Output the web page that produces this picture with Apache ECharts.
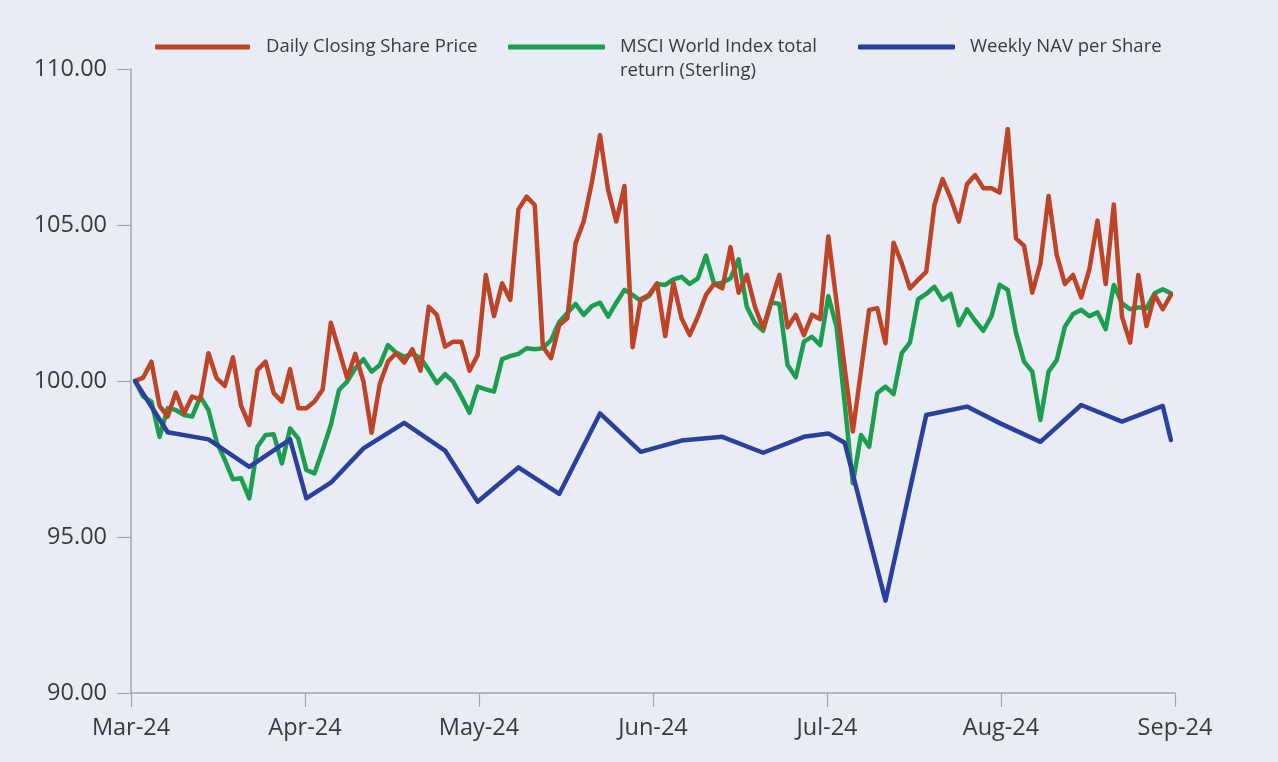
<!DOCTYPE html>
<html>
<head>
<meta charset="utf-8">
<script src="https://cdn.jsdelivr.net/npm/echarts@6/dist/echarts.min.js"></script>
<style>
  html, body { margin: 0; padding: 0; background: #e9ebf5; }
  #chart { width: 1278px; height: 762px; }
</style>
</head>
<body>
<div id="chart"></div>
<script>
/* Share price vs MSCI World vs weekly NAV, rebased to 100 */

// month tick labels (one every 21 trading days)
const monthLabels = ["Mar-24", "Apr-24", "May-24", "Jun-24", "Jul-24", "Aug-24", "Sep-24"];

// daily closing share price, one value per trading day
const sharePrice = [
  100.00, 100.11, 100.62, 99.20, 98.86, 99.63, 98.96, 99.50, 99.41, 100.89,
  100.09, 99.84, 100.76, 99.20, 98.59, 100.35, 100.62, 99.61, 99.34, 100.38,
  99.13, 99.13, 99.34, 99.73, 101.87, 100.99, 100.09, 100.87, 99.98, 98.34,
  99.90, 100.62, 100.89, 100.59, 101.02, 100.33, 102.38, 102.12, 101.10, 101.26,
  101.26, 100.33, 100.83, 103.40, 102.08, 103.13, 102.60, 105.50, 105.91, 105.64,
  101.10, 100.73, 101.79, 102.01, 104.41, 105.11, 106.36, 107.88, 106.12, 105.11,
  106.25, 101.08, 102.62, 102.76, 103.13, 101.44, 103.15, 102.01, 101.47, 102.06,
  102.76, 103.11, 102.97, 104.29, 102.83, 103.40, 102.38, 101.69, 102.56, 103.40,
  101.72, 102.12, 101.47, 102.12, 101.98, 104.63, 102.53, 100.42, 98.38, 100.32,
  102.28, 102.33, 101.21, 104.43, 103.77, 102.97, 103.24, 103.50, 105.64, 106.47,
  105.86, 105.11, 106.31, 106.60, 106.18, 106.18, 106.04, 108.08, 104.57, 104.33,
  102.83, 103.77, 105.93, 104.04, 103.11, 103.40, 102.68, 103.58, 105.14, 103.11,
  105.66, 102.06, 101.23, 103.40, 101.76, 102.76, 102.30, 102.76
];

// MSCI World total return (sterling), same trading days
const msciWorld = [
  100.00, 99.50, 99.34, 98.21, 99.13, 99.07, 98.91, 98.86, 99.50, 99.07,
  98.05, 97.47, 96.85, 96.88, 96.24, 97.89, 98.27, 98.29, 97.36, 98.48,
  98.16, 97.15, 97.04, 97.79, 98.59, 99.71, 99.98, 100.41, 100.70, 100.30,
  100.51, 101.15, 100.91, 100.78, 100.87, 100.74, 100.35, 99.93, 100.22, 99.98,
  99.50, 98.98, 99.82, 99.73, 99.66, 100.70, 100.80, 100.87, 101.05, 101.02,
  101.05, 101.31, 101.89, 102.18, 102.47, 102.12, 102.40, 102.51, 102.06, 102.51,
  102.92, 102.76, 102.57, 102.72, 103.11, 103.08, 103.26, 103.34, 103.11, 103.29,
  104.02, 103.11, 103.15, 103.29, 103.90, 102.38, 101.85, 101.61, 102.52, 102.47,
  100.51, 100.12, 101.26, 101.42, 101.15, 102.72, 101.74, 99.29, 96.72, 98.27,
  97.89, 99.61, 99.82, 99.58, 100.89, 101.23, 102.62, 102.79, 103.02, 102.60,
  102.79, 101.79, 102.30, 101.93, 101.61, 102.08, 103.08, 102.92, 101.55, 100.62,
  100.30, 98.75, 100.30, 100.67, 101.74, 102.15, 102.28, 102.08, 102.20, 101.66,
  103.08, 102.49, 102.30, 102.36, 102.33, 102.81, 102.94, 102.81
];

// weekly NAV: trading-day index of each print, and its value
const navDays = [0, 4, 9, 14, 19, 21, 24, 28, 33, 38, 42, 47, 52, 57, 62, 67, 72, 77, 82, 85, 87, 92, 97, 102, 106, 111, 116, 121, 126, 127];
const navValues = [
  100.00, 98.36, 98.13, 97.25, 98.13, 96.24, 96.74, 97.84, 98.66, 97.77,
  96.13, 97.23, 96.38, 98.96, 97.73, 98.09, 98.21, 97.70, 98.21, 98.32,
  98.02, 92.96, 98.91, 99.18, 98.65, 98.05, 99.23, 98.70, 99.20, 98.11
];

const C = { red: "#bd4427", green: "#1c9e4f", blue: "#2b3f9c", axis: "#a4a6ad", text: "#3a3a3a" };
const FONT = "'Open Sans', 'Noto Sans', sans-serif";
const LEGEND_SIZE = 18.5;

const nameRed = "Daily Closing Share Price";
const nameGreen = "MSCI World Index total return (Sterling)";
const nameBlue = "Weekly NAV per Share";

function legendAt(name, left, iconW, label, gap) {
  return {
    data: [name], left, top: 36, padding: 0, selectedMode: false,
    icon: "roundRect", itemWidth: iconW, itemHeight: 5,
    formatter: () => label,
    textStyle: { color: C.text, fontFamily: FONT, fontSize: LEGEND_SIZE, lineHeight: 22, padding: [0, 0, 0, gap] }
  };
}

function lineSeries(name, color, data, z) {
  return {
    name, type: "line", xAxisIndex: 1, data, z,
    showSymbol: false, symbol: "none", animation: false,
    lineStyle: { color, width: 4.5, cap: "round", join: "round" },
    itemStyle: { color }
  };
}

const chart = echarts.init(document.getElementById("chart"), null, { renderer: "canvas" });
chart.setOption({
  backgroundColor: "#e9ebf5",
  animation: false,
  grid: { left: 131, right: 103, top: 69, bottom: 69 },
  legend: [
    legendAt(nameRed, 155, 95, nameRed, 11),
    legendAt(nameGreen, 508, 97, "MSCI World Index total", 10),
    legendAt(nameBlue, 858, 97, nameBlue, 10)
  ],
  // second line of the wrapped MSCI legend entry
  graphic: [{
    type: "text", left: 620, top: 61,
    style: { text: "return (Sterling)", fill: C.text, font: `${LEGEND_SIZE}px ${FONT}` }
  }],
  xAxis: [
    {
      type: "value", position: "bottom", min: 0, max: monthLabels.length - 1, interval: 1,
      axisLine: { show: true, lineStyle: { color: C.axis, width: 1.5 } },
      axisTick: { show: true, length: 14, lineStyle: { color: C.axis, width: 1.2 } },
      axisLabel: { color: C.text, fontFamily: FONT, fontSize: 23.5, margin: 23, formatter: (v) => monthLabels[v] || "" },
      splitLine: { show: false }
    },
    {
      // trading-day axis the series are plotted on
      type: "value", position: "top", show: false,
      min: -0.5, max: sharePrice.length - 0.5,
      splitLine: { show: false }
    }
  ],
  yAxis: {
    type: "value", min: 90, max: 110, interval: 5,
    axisLine: { show: true, lineStyle: { color: C.axis, width: 1.5 } },
    axisTick: { show: true, length: 14, lineStyle: { color: C.axis, width: 1.2 } },
    axisLabel: { color: C.text, fontFamily: FONT, fontSize: 23.5, margin: 24, formatter: (v) => v.toFixed(2) },
    splitLine: { show: false }
  },
  series: [
    lineSeries(nameGreen, C.green, msciWorld.map((v, i) => [i, v]), 2),
    lineSeries(nameRed, C.red, sharePrice.map((v, i) => [i, v]), 3),
    lineSeries(nameBlue, C.blue, navDays.map((d, i) => [d, navValues[i]]), 4)
  ]
});
window.addEventListener("resize", () => chart.resize());
</script>
</body>
</html>
